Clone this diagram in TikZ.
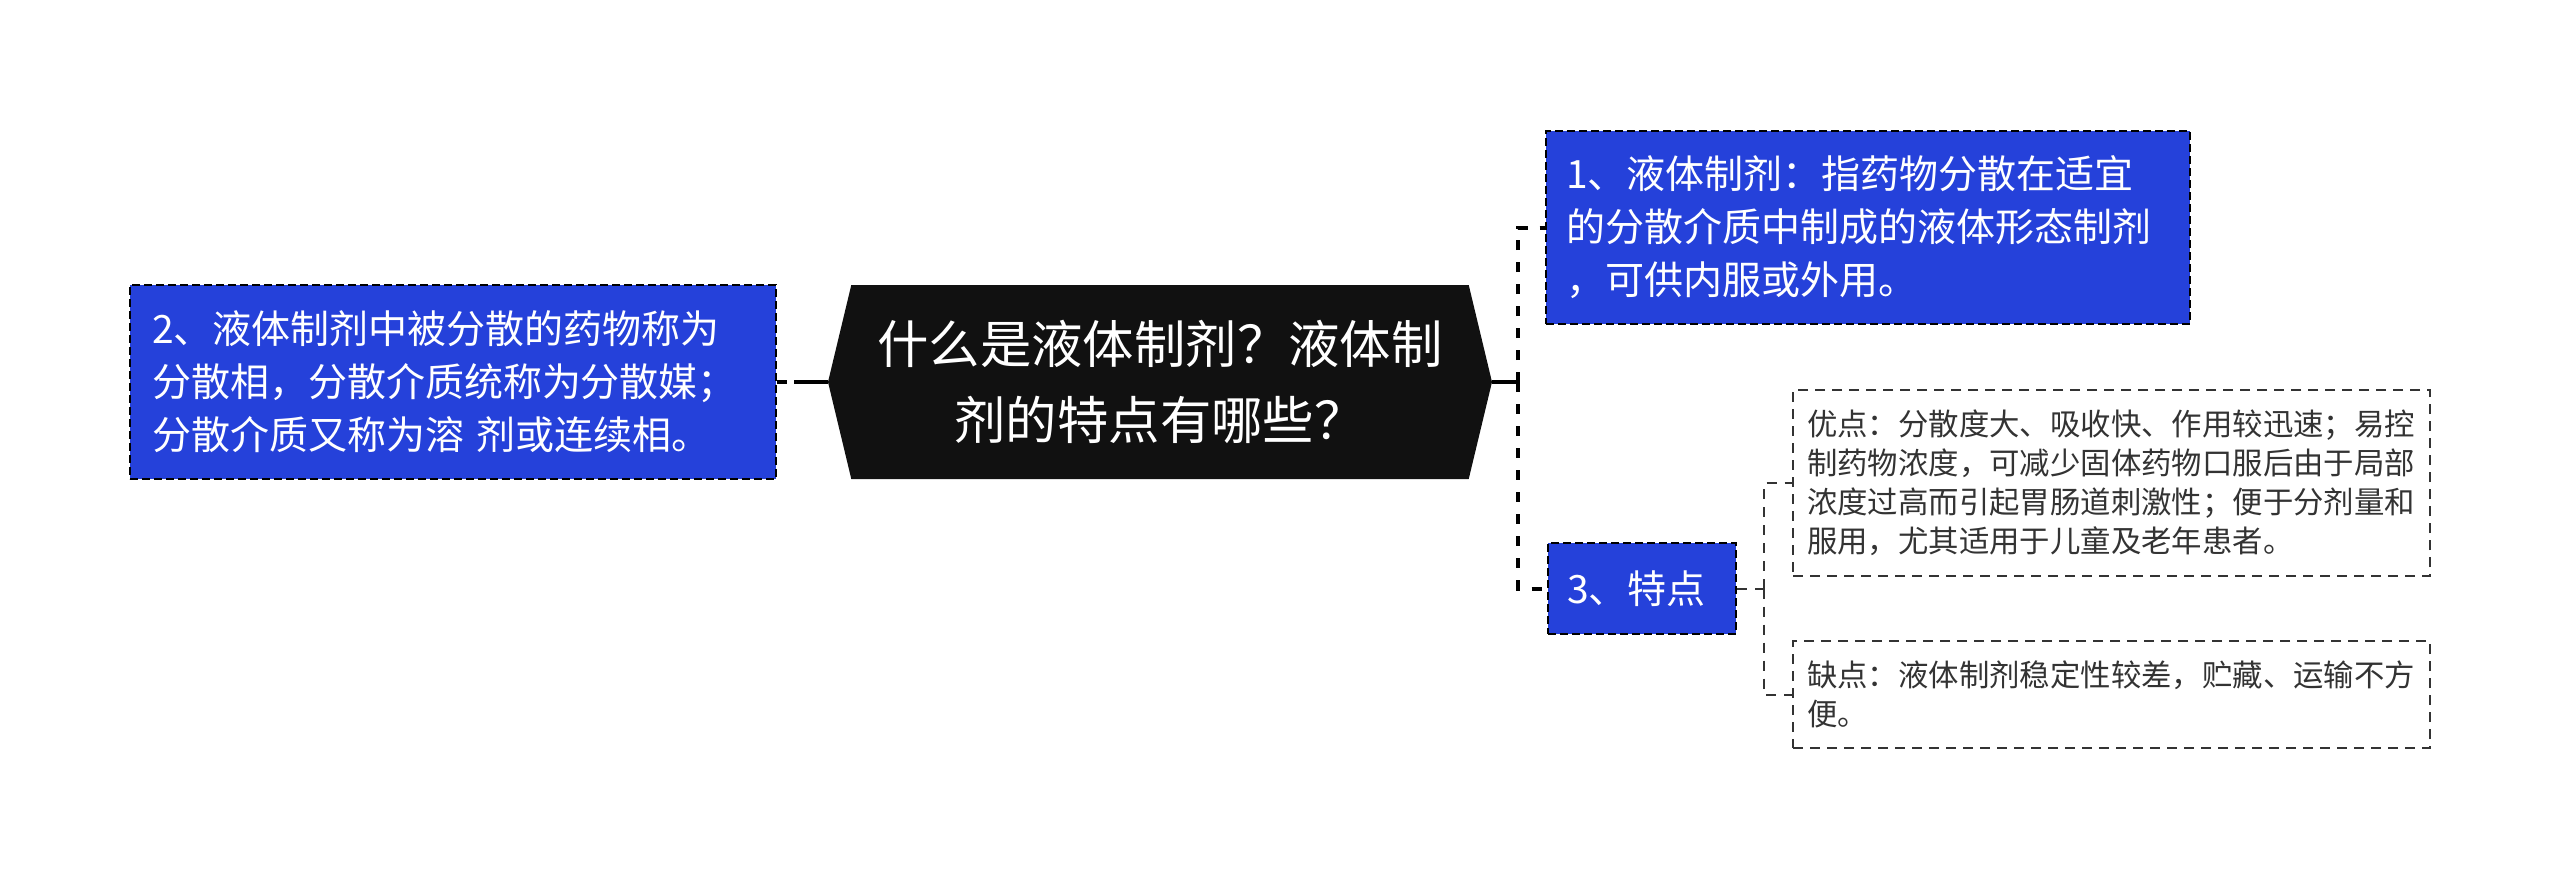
\documentclass[tikz,border=0pt]{standalone}
\usepackage{fontspec}
\setmainfont{Noto Sans CJK SC}
\usetikzlibrary{shapes.symbols}
\definecolor{nodeblue}{RGB}{37,65,218}
\definecolor{rootblack}{RGB}{17,17,17}
\definecolor{leafgray}{RGB}{51,51,51}
\begin{document}
\begin{tikzpicture}[x=0.5pt,y=-0.5pt]
			\useasboundingbox (0,0) rectangle (2560,879);
			
			\tikzstyle{myroot}=[signal,
			signal to=east and west,
			signal pointer angle=153,
			fill=rootblack,
			text=white,
			inner sep=0pt,
			minimum width=332pt,
			minimum height=97pt,
			align=center,
			font=\fontsize{25.7pt}{38pt}\selectfont
			]
			\tikzstyle{mybranch}=[rectangle,
			draw=black,
			fill=nodeblue,
			line width=1pt,
			dash pattern=on 4pt off 2pt,
			text=white,
			inner xsep=10pt,
			inner ysep=0pt,
			align=left,
			font=\fontsize{19.5pt}{26.5pt}\selectfont
			]
			\tikzstyle{myleaf}=[rectangle,
			draw=leafgray,
			fill=white,
			line width=1pt,
			dash pattern=on 5pt off 3.5pt,
			text=leafgray,
			inner xsep=7pt,
			inner ysep=0pt,
			align=left,
			font=\fontsize{15.2pt}{19.5pt}\selectfont
			]
			\tikzstyle{rootline}=[line width=2pt]
			\tikzstyle{branchline}=[line width=2pt, dash pattern=on 5pt off 6pt]
			\tikzstyle{leafline}=[line width=1pt, draw=leafgray, dash pattern=on 5pt off 4pt]
			
			\coordinate (proot) at (1160, 382);
			\coordinate (pdef) at (1868, 227.5);
			\coordinate (pterm) at (453, 382);
			\coordinate (pfeat) at (1642, 588.5);
			\coordinate (ppro) at (2111.5, 483);
			\coordinate (pcon) at (2111.5, 694.5);
			
			\node[myroot] (root) at (proot) {什么是液体制剂？液体制\\剂的特点有哪些？};
			
			\node[mybranch, text width=302pt, minimum height=96.5pt] (def) at (pdef) {1、液体制剂：指药物分散在适宜\\的分散介质中制成的液体形态制剂\\，可供内服或外用。};
			\node[mybranch, text width=301pt, inner xsep=11pt, minimum height=97pt] (term) at (pterm) {2、液体制剂中被分散的药物称为\\分散相，分散介质统称为分散媒；\\分散介质又称为溶 剂或连续相。};
			\node[mybranch, text width=75pt, inner xsep=9.5pt, minimum height=45.5pt] (feat) at (pfeat) {3、特点};
			
			\node[myleaf, text width=304.5pt, minimum height=93pt] (pro) at (ppro) {优点：分散度大、吸收快、作用较迅速；易控\\制药物浓度，可减少固体药物口服后由于局部\\浓度过高而引起胃肠道刺激性；便于分剂量和\\服用，尤其适用于儿童及老年患者。};
			\node[myleaf, text width=304.5pt, minimum height=53.5pt] (con) at (pcon) {缺点：液体制剂稳定性较差，贮藏、运输不方\\便。};
			
			\coordinate (jr) at (1518, 382);
			\coordinate (jf) at (1764, 588.5);
			
			\draw[rootline, dash pattern=on 5pt off 3.5pt on 30pt off 0pt] (term.east) -- (root.west);
			\draw[rootline] (root.east) -- (jr);
			\draw[branchline] (jr) |- (def.west);
			\draw[branchline] (jr) |- (feat.west);
			
			\draw[leafline] (feat.east) -- (jf);
			\draw[leafline] (jf) |- (pro.west);
			\draw[leafline] (jf) |- (con.west);
			
\end{tikzpicture}
\end{document}
